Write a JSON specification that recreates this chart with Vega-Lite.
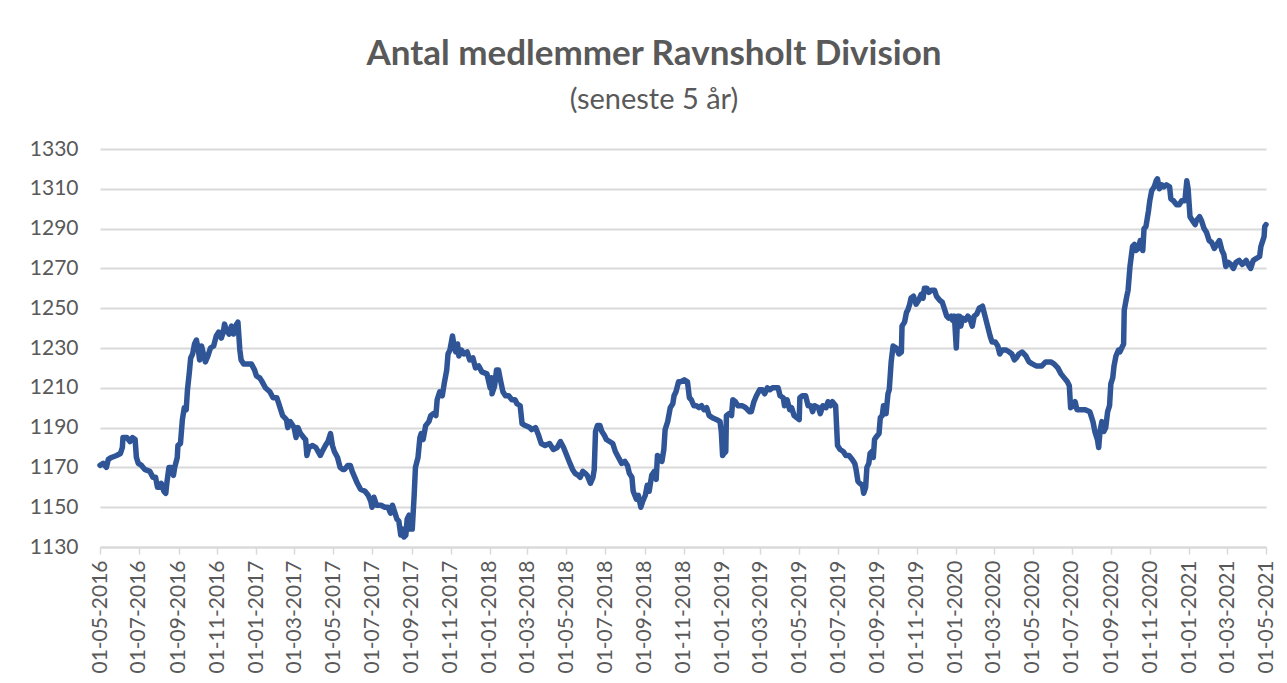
{
  "$schema": "https://vega.github.io/schema/vega-lite/v6.json",
  "width": 1166,
  "height": 398,
  "autosize": {"type": "none"},
  "padding": {"left": 100, "top": 149, "right": 21, "bottom": 136},
  "background": "white",
  "config": {"view": {"stroke": null}, "font": "Lato"},
  "title": {
    "text": "Antal medlemmer Ravnsholt Division",
    "subtitle": "(seneste 5 år)",
    "font": "Lato",
    "fontSize": 35,
    "fontWeight": "bold",
    "color": "#595959",
    "subtitleFont": "Lato",
    "subtitleFontSize": 29,
    "subtitleColor": "#595959",
    "subtitlePadding": 14,
    "anchor": "middle",
    "dx": -29,
    "offset": 23
  },
  "data": {
    "format": {"parse": {"dato": "date:'%Y-%m-%d'"}},
    "values": [
      {"dato": "2016-05-01", "medlemmer": 1171},
      {"dato": "2016-05-06", "medlemmer": 1172},
      {"dato": "2016-05-11", "medlemmer": 1170},
      {"dato": "2016-05-14", "medlemmer": 1174},
      {"dato": "2016-05-19", "medlemmer": 1175},
      {"dato": "2016-05-27", "medlemmer": 1176},
      {"dato": "2016-06-02", "medlemmer": 1177},
      {"dato": "2016-06-05", "medlemmer": 1180},
      {"dato": "2016-06-06", "medlemmer": 1185},
      {"dato": "2016-06-12", "medlemmer": 1185},
      {"dato": "2016-06-17", "medlemmer": 1183},
      {"dato": "2016-06-21", "medlemmer": 1185},
      {"dato": "2016-06-25", "medlemmer": 1184},
      {"dato": "2016-06-27", "medlemmer": 1175},
      {"dato": "2016-06-30", "medlemmer": 1172},
      {"dato": "2016-07-05", "medlemmer": 1171},
      {"dato": "2016-07-10", "medlemmer": 1169},
      {"dato": "2016-07-18", "medlemmer": 1168},
      {"dato": "2016-07-23", "medlemmer": 1165},
      {"dato": "2016-07-27", "medlemmer": 1165},
      {"dato": "2016-07-30", "medlemmer": 1160},
      {"dato": "2016-08-03", "medlemmer": 1160},
      {"dato": "2016-08-05", "medlemmer": 1162},
      {"dato": "2016-08-09", "medlemmer": 1158},
      {"dato": "2016-08-12", "medlemmer": 1157},
      {"dato": "2016-08-14", "medlemmer": 1163},
      {"dato": "2016-08-17", "medlemmer": 1170},
      {"dato": "2016-08-21", "medlemmer": 1170},
      {"dato": "2016-08-24", "medlemmer": 1166},
      {"dato": "2016-08-26", "medlemmer": 1170},
      {"dato": "2016-08-30", "medlemmer": 1175},
      {"dato": "2016-08-31", "medlemmer": 1181},
      {"dato": "2016-09-04", "medlemmer": 1182},
      {"dato": "2016-09-07", "medlemmer": 1194},
      {"dato": "2016-09-10", "medlemmer": 1200},
      {"dato": "2016-09-13", "medlemmer": 1199},
      {"dato": "2016-09-15", "medlemmer": 1209},
      {"dato": "2016-09-18", "medlemmer": 1218},
      {"dato": "2016-09-20", "medlemmer": 1225},
      {"dato": "2016-09-23", "medlemmer": 1227},
      {"dato": "2016-09-26", "medlemmer": 1232},
      {"dato": "2016-09-29", "medlemmer": 1234},
      {"dato": "2016-10-02", "medlemmer": 1229},
      {"dato": "2016-10-04", "medlemmer": 1224},
      {"dato": "2016-10-07", "medlemmer": 1231},
      {"dato": "2016-10-10", "medlemmer": 1227},
      {"dato": "2016-10-13", "medlemmer": 1223},
      {"dato": "2016-10-17", "medlemmer": 1226},
      {"dato": "2016-10-21", "medlemmer": 1230},
      {"dato": "2016-10-26", "medlemmer": 1231},
      {"dato": "2016-10-30", "medlemmer": 1236},
      {"dato": "2016-11-03", "medlemmer": 1238},
      {"dato": "2016-11-07", "medlemmer": 1235},
      {"dato": "2016-11-10", "medlemmer": 1238},
      {"dato": "2016-11-12", "medlemmer": 1242},
      {"dato": "2016-11-15", "medlemmer": 1239},
      {"dato": "2016-11-19", "medlemmer": 1237},
      {"dato": "2016-11-23", "medlemmer": 1241},
      {"dato": "2016-11-26", "medlemmer": 1237},
      {"dato": "2016-12-01", "medlemmer": 1242},
      {"dato": "2016-12-03", "medlemmer": 1243},
      {"dato": "2016-12-06", "medlemmer": 1229},
      {"dato": "2016-12-08", "medlemmer": 1224},
      {"dato": "2016-12-12", "medlemmer": 1222},
      {"dato": "2016-12-19", "medlemmer": 1222},
      {"dato": "2016-12-24", "medlemmer": 1222},
      {"dato": "2016-12-29", "medlemmer": 1219},
      {"dato": "2017-01-01", "medlemmer": 1216},
      {"dato": "2017-01-06", "medlemmer": 1215},
      {"dato": "2017-01-10", "medlemmer": 1213},
      {"dato": "2017-01-15", "medlemmer": 1210},
      {"dato": "2017-01-22", "medlemmer": 1208},
      {"dato": "2017-01-27", "medlemmer": 1205},
      {"dato": "2017-02-02", "medlemmer": 1205},
      {"dato": "2017-02-07", "medlemmer": 1200},
      {"dato": "2017-02-11", "medlemmer": 1196},
      {"dato": "2017-02-17", "medlemmer": 1194},
      {"dato": "2017-02-19", "medlemmer": 1190},
      {"dato": "2017-02-23", "medlemmer": 1193},
      {"dato": "2017-03-01", "medlemmer": 1190},
      {"dato": "2017-03-04", "medlemmer": 1185},
      {"dato": "2017-03-07", "medlemmer": 1190},
      {"dato": "2017-03-11", "medlemmer": 1187},
      {"dato": "2017-03-16", "medlemmer": 1185},
      {"dato": "2017-03-19", "medlemmer": 1184},
      {"dato": "2017-03-21", "medlemmer": 1176},
      {"dato": "2017-03-24", "medlemmer": 1180},
      {"dato": "2017-03-30", "medlemmer": 1181},
      {"dato": "2017-04-04", "medlemmer": 1180},
      {"dato": "2017-04-11", "medlemmer": 1176},
      {"dato": "2017-04-14", "medlemmer": 1178},
      {"dato": "2017-04-19", "medlemmer": 1181},
      {"dato": "2017-04-23", "medlemmer": 1183},
      {"dato": "2017-04-27", "medlemmer": 1187},
      {"dato": "2017-04-30", "medlemmer": 1181},
      {"dato": "2017-05-03", "medlemmer": 1178},
      {"dato": "2017-05-08", "medlemmer": 1175},
      {"dato": "2017-05-12", "medlemmer": 1170},
      {"dato": "2017-05-16", "medlemmer": 1169},
      {"dato": "2017-05-19", "medlemmer": 1169},
      {"dato": "2017-05-24", "medlemmer": 1171},
      {"dato": "2017-05-28", "medlemmer": 1171},
      {"dato": "2017-05-31", "medlemmer": 1168},
      {"dato": "2017-06-04", "medlemmer": 1165},
      {"dato": "2017-06-08", "medlemmer": 1162},
      {"dato": "2017-06-13", "medlemmer": 1159},
      {"dato": "2017-06-20", "medlemmer": 1158},
      {"dato": "2017-06-25", "medlemmer": 1156},
      {"dato": "2017-06-29", "medlemmer": 1153},
      {"dato": "2017-07-01", "medlemmer": 1150},
      {"dato": "2017-07-04", "medlemmer": 1155},
      {"dato": "2017-07-08", "medlemmer": 1151},
      {"dato": "2017-07-15", "medlemmer": 1151},
      {"dato": "2017-07-21", "medlemmer": 1150},
      {"dato": "2017-07-26", "medlemmer": 1150},
      {"dato": "2017-07-30", "medlemmer": 1147},
      {"dato": "2017-08-02", "medlemmer": 1151},
      {"dato": "2017-08-06", "medlemmer": 1147},
      {"dato": "2017-08-09", "medlemmer": 1144},
      {"dato": "2017-08-12", "medlemmer": 1143},
      {"dato": "2017-08-15", "medlemmer": 1136},
      {"dato": "2017-08-18", "medlemmer": 1139},
      {"dato": "2017-08-20", "medlemmer": 1135},
      {"dato": "2017-08-23", "medlemmer": 1136},
      {"dato": "2017-08-25", "medlemmer": 1144},
      {"dato": "2017-08-28", "medlemmer": 1146},
      {"dato": "2017-08-30", "medlemmer": 1139},
      {"dato": "2017-09-02", "medlemmer": 1139},
      {"dato": "2017-09-05", "medlemmer": 1156},
      {"dato": "2017-09-07", "medlemmer": 1170},
      {"dato": "2017-09-11", "medlemmer": 1175},
      {"dato": "2017-09-14", "medlemmer": 1185},
      {"dato": "2017-09-16", "medlemmer": 1187},
      {"dato": "2017-09-19", "medlemmer": 1184},
      {"dato": "2017-09-23", "medlemmer": 1191},
      {"dato": "2017-09-28", "medlemmer": 1193},
      {"dato": "2017-10-01", "medlemmer": 1196},
      {"dato": "2017-10-05", "medlemmer": 1197},
      {"dato": "2017-10-09", "medlemmer": 1196},
      {"dato": "2017-10-11", "medlemmer": 1204},
      {"dato": "2017-10-15", "medlemmer": 1208},
      {"dato": "2017-10-19", "medlemmer": 1206},
      {"dato": "2017-10-22", "medlemmer": 1212},
      {"dato": "2017-10-26", "medlemmer": 1219},
      {"dato": "2017-10-28", "medlemmer": 1227},
      {"dato": "2017-10-31", "medlemmer": 1229},
      {"dato": "2017-11-04", "medlemmer": 1236},
      {"dato": "2017-11-06", "medlemmer": 1232},
      {"dato": "2017-11-09", "medlemmer": 1228},
      {"dato": "2017-11-12", "medlemmer": 1232},
      {"dato": "2017-11-14", "medlemmer": 1226},
      {"dato": "2017-11-18", "medlemmer": 1229},
      {"dato": "2017-11-22", "medlemmer": 1227},
      {"dato": "2017-11-27", "medlemmer": 1228},
      {"dato": "2017-12-01", "medlemmer": 1224},
      {"dato": "2017-12-06", "medlemmer": 1225},
      {"dato": "2017-12-10", "medlemmer": 1220},
      {"dato": "2017-12-15", "medlemmer": 1221},
      {"dato": "2017-12-20", "medlemmer": 1218},
      {"dato": "2017-12-28", "medlemmer": 1217},
      {"dato": "2018-01-02", "medlemmer": 1210},
      {"dato": "2018-01-04", "medlemmer": 1215},
      {"dato": "2018-01-05", "medlemmer": 1207},
      {"dato": "2018-01-09", "medlemmer": 1211},
      {"dato": "2018-01-12", "medlemmer": 1219},
      {"dato": "2018-01-15", "medlemmer": 1219},
      {"dato": "2018-01-18", "medlemmer": 1214},
      {"dato": "2018-01-22", "medlemmer": 1208},
      {"dato": "2018-01-26", "medlemmer": 1206},
      {"dato": "2018-01-31", "medlemmer": 1206},
      {"dato": "2018-02-05", "medlemmer": 1204},
      {"dato": "2018-02-10", "medlemmer": 1204},
      {"dato": "2018-02-13", "medlemmer": 1202},
      {"dato": "2018-02-18", "medlemmer": 1201},
      {"dato": "2018-02-21", "medlemmer": 1192},
      {"dato": "2018-02-26", "medlemmer": 1191},
      {"dato": "2018-03-05", "medlemmer": 1190},
      {"dato": "2018-03-08", "medlemmer": 1189},
      {"dato": "2018-03-14", "medlemmer": 1190},
      {"dato": "2018-03-19", "medlemmer": 1186},
      {"dato": "2018-03-23", "medlemmer": 1182},
      {"dato": "2018-03-29", "medlemmer": 1181},
      {"dato": "2018-04-05", "medlemmer": 1182},
      {"dato": "2018-04-11", "medlemmer": 1179},
      {"dato": "2018-04-17", "medlemmer": 1180},
      {"dato": "2018-04-22", "medlemmer": 1183},
      {"dato": "2018-04-27", "medlemmer": 1180},
      {"dato": "2018-05-02", "medlemmer": 1176},
      {"dato": "2018-05-07", "medlemmer": 1172},
      {"dato": "2018-05-11", "medlemmer": 1169},
      {"dato": "2018-05-15", "medlemmer": 1167},
      {"dato": "2018-05-20", "medlemmer": 1166},
      {"dato": "2018-05-23", "medlemmer": 1165},
      {"dato": "2018-05-27", "medlemmer": 1168},
      {"dato": "2018-05-31", "medlemmer": 1167},
      {"dato": "2018-06-03", "medlemmer": 1166},
      {"dato": "2018-06-08", "medlemmer": 1162},
      {"dato": "2018-06-12", "medlemmer": 1165},
      {"dato": "2018-06-14", "medlemmer": 1169},
      {"dato": "2018-06-16", "medlemmer": 1188},
      {"dato": "2018-06-19", "medlemmer": 1191},
      {"dato": "2018-06-23", "medlemmer": 1191},
      {"dato": "2018-06-26", "medlemmer": 1188},
      {"dato": "2018-06-30", "medlemmer": 1186},
      {"dato": "2018-07-03", "medlemmer": 1184},
      {"dato": "2018-07-08", "medlemmer": 1183},
      {"dato": "2018-07-13", "medlemmer": 1182},
      {"dato": "2018-07-17", "medlemmer": 1178},
      {"dato": "2018-07-22", "medlemmer": 1175},
      {"dato": "2018-07-27", "medlemmer": 1172},
      {"dato": "2018-08-01", "medlemmer": 1173},
      {"dato": "2018-08-05", "medlemmer": 1171},
      {"dato": "2018-08-08", "medlemmer": 1167},
      {"dato": "2018-08-12", "medlemmer": 1165},
      {"dato": "2018-08-14", "medlemmer": 1158},
      {"dato": "2018-08-19", "medlemmer": 1154},
      {"dato": "2018-08-22", "medlemmer": 1156},
      {"dato": "2018-08-26", "medlemmer": 1150},
      {"dato": "2018-08-29", "medlemmer": 1153},
      {"dato": "2018-09-02", "medlemmer": 1156},
      {"dato": "2018-09-05", "medlemmer": 1161},
      {"dato": "2018-09-08", "medlemmer": 1158},
      {"dato": "2018-09-12", "medlemmer": 1166},
      {"dato": "2018-09-16", "medlemmer": 1168},
      {"dato": "2018-09-19", "medlemmer": 1164},
      {"dato": "2018-09-21", "medlemmer": 1176},
      {"dato": "2018-09-24", "medlemmer": 1175},
      {"dato": "2018-09-28", "medlemmer": 1173},
      {"dato": "2018-10-01", "medlemmer": 1179},
      {"dato": "2018-10-03", "medlemmer": 1189},
      {"dato": "2018-10-07", "medlemmer": 1193},
      {"dato": "2018-10-11", "medlemmer": 1200},
      {"dato": "2018-10-15", "medlemmer": 1202},
      {"dato": "2018-10-17", "medlemmer": 1206},
      {"dato": "2018-10-20", "medlemmer": 1208},
      {"dato": "2018-10-24", "medlemmer": 1213},
      {"dato": "2018-10-27", "medlemmer": 1213},
      {"dato": "2018-11-02", "medlemmer": 1214},
      {"dato": "2018-11-07", "medlemmer": 1213},
      {"dato": "2018-11-10", "medlemmer": 1205},
      {"dato": "2018-11-13", "medlemmer": 1204},
      {"dato": "2018-11-17", "medlemmer": 1201},
      {"dato": "2018-11-21", "medlemmer": 1201},
      {"dato": "2018-11-25", "medlemmer": 1200},
      {"dato": "2018-11-29", "medlemmer": 1201},
      {"dato": "2018-12-03", "medlemmer": 1199},
      {"dato": "2018-12-07", "medlemmer": 1200},
      {"dato": "2018-12-11", "medlemmer": 1196},
      {"dato": "2018-12-16", "medlemmer": 1195},
      {"dato": "2018-12-23", "medlemmer": 1194},
      {"dato": "2018-12-28", "medlemmer": 1193},
      {"dato": "2018-12-30", "medlemmer": 1188},
      {"dato": "2019-01-01", "medlemmer": 1176},
      {"dato": "2019-01-03", "medlemmer": 1177},
      {"dato": "2019-01-06", "medlemmer": 1178},
      {"dato": "2019-01-07", "medlemmer": 1196},
      {"dato": "2019-01-11", "medlemmer": 1197},
      {"dato": "2019-01-15", "medlemmer": 1196},
      {"dato": "2019-01-17", "medlemmer": 1204},
      {"dato": "2019-01-21", "medlemmer": 1203},
      {"dato": "2019-01-25", "medlemmer": 1201},
      {"dato": "2019-02-01", "medlemmer": 1201},
      {"dato": "2019-02-06", "medlemmer": 1200},
      {"dato": "2019-02-12", "medlemmer": 1198},
      {"dato": "2019-02-15", "medlemmer": 1198},
      {"dato": "2019-02-19", "medlemmer": 1203},
      {"dato": "2019-02-23", "medlemmer": 1206},
      {"dato": "2019-02-28", "medlemmer": 1209},
      {"dato": "2019-03-04", "medlemmer": 1209},
      {"dato": "2019-03-08", "medlemmer": 1207},
      {"dato": "2019-03-12", "medlemmer": 1210},
      {"dato": "2019-03-16", "medlemmer": 1209},
      {"dato": "2019-03-20", "medlemmer": 1210},
      {"dato": "2019-03-25", "medlemmer": 1210},
      {"dato": "2019-03-29", "medlemmer": 1210},
      {"dato": "2019-04-01", "medlemmer": 1206},
      {"dato": "2019-04-06", "medlemmer": 1205},
      {"dato": "2019-04-08", "medlemmer": 1201},
      {"dato": "2019-04-12", "medlemmer": 1204},
      {"dato": "2019-04-16", "medlemmer": 1199},
      {"dato": "2019-04-19", "medlemmer": 1200},
      {"dato": "2019-04-23", "medlemmer": 1196},
      {"dato": "2019-04-27", "medlemmer": 1195},
      {"dato": "2019-05-01", "medlemmer": 1194},
      {"dato": "2019-05-02", "medlemmer": 1205},
      {"dato": "2019-05-06", "medlemmer": 1206},
      {"dato": "2019-05-11", "medlemmer": 1206},
      {"dato": "2019-05-15", "medlemmer": 1201},
      {"dato": "2019-05-19", "medlemmer": 1201},
      {"dato": "2019-05-22", "medlemmer": 1198},
      {"dato": "2019-05-25", "medlemmer": 1201},
      {"dato": "2019-05-31", "medlemmer": 1200},
      {"dato": "2019-06-03", "medlemmer": 1197},
      {"dato": "2019-06-07", "medlemmer": 1201},
      {"dato": "2019-06-12", "medlemmer": 1200},
      {"dato": "2019-06-15", "medlemmer": 1203},
      {"dato": "2019-06-19", "medlemmer": 1201},
      {"dato": "2019-06-22", "medlemmer": 1203},
      {"dato": "2019-06-27", "medlemmer": 1201},
      {"dato": "2019-06-30", "medlemmer": 1181},
      {"dato": "2019-07-04", "medlemmer": 1179},
      {"dato": "2019-07-09", "medlemmer": 1178},
      {"dato": "2019-07-13", "medlemmer": 1176},
      {"dato": "2019-07-18", "medlemmer": 1176},
      {"dato": "2019-07-23", "medlemmer": 1174},
      {"dato": "2019-07-27", "medlemmer": 1172},
      {"dato": "2019-07-29", "medlemmer": 1169},
      {"dato": "2019-08-01", "medlemmer": 1163},
      {"dato": "2019-08-04", "medlemmer": 1162},
      {"dato": "2019-08-08", "medlemmer": 1161},
      {"dato": "2019-08-10", "medlemmer": 1157},
      {"dato": "2019-08-13", "medlemmer": 1160},
      {"dato": "2019-08-15", "medlemmer": 1170},
      {"dato": "2019-08-18", "medlemmer": 1172},
      {"dato": "2019-08-20", "medlemmer": 1177},
      {"dato": "2019-08-23", "medlemmer": 1178},
      {"dato": "2019-08-25", "medlemmer": 1175},
      {"dato": "2019-08-27", "medlemmer": 1184},
      {"dato": "2019-08-29", "medlemmer": 1185},
      {"dato": "2019-09-03", "medlemmer": 1187},
      {"dato": "2019-09-05", "medlemmer": 1195},
      {"dato": "2019-09-08", "medlemmer": 1196},
      {"dato": "2019-09-10", "medlemmer": 1201},
      {"dato": "2019-09-14", "medlemmer": 1197},
      {"dato": "2019-09-17", "medlemmer": 1207},
      {"dato": "2019-09-19", "medlemmer": 1209},
      {"dato": "2019-09-22", "medlemmer": 1223},
      {"dato": "2019-09-25", "medlemmer": 1231},
      {"dato": "2019-09-30", "medlemmer": 1230},
      {"dato": "2019-10-04", "medlemmer": 1227},
      {"dato": "2019-10-08", "medlemmer": 1228},
      {"dato": "2019-10-09", "medlemmer": 1241},
      {"dato": "2019-10-13", "medlemmer": 1243},
      {"dato": "2019-10-16", "medlemmer": 1248},
      {"dato": "2019-10-18", "medlemmer": 1249},
      {"dato": "2019-10-21", "medlemmer": 1252},
      {"dato": "2019-10-23", "medlemmer": 1255},
      {"dato": "2019-10-27", "medlemmer": 1256},
      {"dato": "2019-10-31", "medlemmer": 1252},
      {"dato": "2019-11-04", "medlemmer": 1254},
      {"dato": "2019-11-08", "medlemmer": 1257},
      {"dato": "2019-11-11", "medlemmer": 1255},
      {"dato": "2019-11-13", "medlemmer": 1260},
      {"dato": "2019-11-17", "medlemmer": 1260},
      {"dato": "2019-11-20", "medlemmer": 1258},
      {"dato": "2019-11-24", "medlemmer": 1259},
      {"dato": "2019-11-29", "medlemmer": 1259},
      {"dato": "2019-12-02", "medlemmer": 1256},
      {"dato": "2019-12-07", "medlemmer": 1254},
      {"dato": "2019-12-11", "medlemmer": 1253},
      {"dato": "2019-12-14", "medlemmer": 1250},
      {"dato": "2019-12-18", "medlemmer": 1246},
      {"dato": "2019-12-21", "medlemmer": 1245},
      {"dato": "2019-12-25", "medlemmer": 1246},
      {"dato": "2019-12-27", "medlemmer": 1244},
      {"dato": "2019-12-30", "medlemmer": 1246},
      {"dato": "2020-01-02", "medlemmer": 1230},
      {"dato": "2020-01-04", "medlemmer": 1246},
      {"dato": "2020-01-07", "medlemmer": 1246},
      {"dato": "2020-01-09", "medlemmer": 1241},
      {"dato": "2020-01-12", "medlemmer": 1245},
      {"dato": "2020-01-16", "medlemmer": 1244},
      {"dato": "2020-01-20", "medlemmer": 1246},
      {"dato": "2020-01-23", "medlemmer": 1245},
      {"dato": "2020-01-27", "medlemmer": 1241},
      {"dato": "2020-01-30", "medlemmer": 1246},
      {"dato": "2020-02-03", "medlemmer": 1247},
      {"dato": "2020-02-07", "medlemmer": 1250},
      {"dato": "2020-02-12", "medlemmer": 1251},
      {"dato": "2020-02-16", "medlemmer": 1246},
      {"dato": "2020-02-20", "medlemmer": 1241},
      {"dato": "2020-02-24", "medlemmer": 1236},
      {"dato": "2020-02-27", "medlemmer": 1233},
      {"dato": "2020-03-03", "medlemmer": 1233},
      {"dato": "2020-03-07", "medlemmer": 1231},
      {"dato": "2020-03-10", "medlemmer": 1227},
      {"dato": "2020-03-14", "medlemmer": 1229},
      {"dato": "2020-03-20", "medlemmer": 1229},
      {"dato": "2020-03-25", "medlemmer": 1228},
      {"dato": "2020-03-29", "medlemmer": 1227},
      {"dato": "2020-04-02", "medlemmer": 1224},
      {"dato": "2020-04-05", "medlemmer": 1225},
      {"dato": "2020-04-09", "medlemmer": 1227},
      {"dato": "2020-04-14", "medlemmer": 1228},
      {"dato": "2020-04-20", "medlemmer": 1226},
      {"dato": "2020-04-25", "medlemmer": 1223},
      {"dato": "2020-04-30", "medlemmer": 1222},
      {"dato": "2020-05-06", "medlemmer": 1221},
      {"dato": "2020-05-10", "medlemmer": 1221},
      {"dato": "2020-05-15", "medlemmer": 1221},
      {"dato": "2020-05-21", "medlemmer": 1223},
      {"dato": "2020-05-29", "medlemmer": 1223},
      {"dato": "2020-06-03", "medlemmer": 1222},
      {"dato": "2020-06-09", "medlemmer": 1220},
      {"dato": "2020-06-14", "medlemmer": 1217},
      {"dato": "2020-06-19", "medlemmer": 1215},
      {"dato": "2020-06-24", "medlemmer": 1213},
      {"dato": "2020-06-27", "medlemmer": 1211},
      {"dato": "2020-06-29", "medlemmer": 1200},
      {"dato": "2020-07-03", "medlemmer": 1201},
      {"dato": "2020-07-06", "medlemmer": 1203},
      {"dato": "2020-07-09", "medlemmer": 1199},
      {"dato": "2020-07-15", "medlemmer": 1199},
      {"dato": "2020-07-22", "medlemmer": 1199},
      {"dato": "2020-07-29", "medlemmer": 1198},
      {"dato": "2020-08-03", "medlemmer": 1193},
      {"dato": "2020-08-06", "medlemmer": 1188},
      {"dato": "2020-08-10", "medlemmer": 1184},
      {"dato": "2020-08-12", "medlemmer": 1180},
      {"dato": "2020-08-14", "medlemmer": 1188},
      {"dato": "2020-08-17", "medlemmer": 1193},
      {"dato": "2020-08-20", "medlemmer": 1188},
      {"dato": "2020-08-23", "medlemmer": 1190},
      {"dato": "2020-08-26", "medlemmer": 1198},
      {"dato": "2020-08-29", "medlemmer": 1201},
      {"dato": "2020-08-31", "medlemmer": 1212},
      {"dato": "2020-09-03", "medlemmer": 1215},
      {"dato": "2020-09-05", "medlemmer": 1221},
      {"dato": "2020-09-08", "medlemmer": 1226},
      {"dato": "2020-09-12", "medlemmer": 1229},
      {"dato": "2020-09-14", "medlemmer": 1228},
      {"dato": "2020-09-20", "medlemmer": 1232},
      {"dato": "2020-09-21", "medlemmer": 1249},
      {"dato": "2020-09-25", "medlemmer": 1256},
      {"dato": "2020-09-27", "medlemmer": 1259},
      {"dato": "2020-09-30", "medlemmer": 1271},
      {"dato": "2020-10-04", "medlemmer": 1281},
      {"dato": "2020-10-07", "medlemmer": 1282},
      {"dato": "2020-10-09", "medlemmer": 1279},
      {"dato": "2020-10-13", "medlemmer": 1280},
      {"dato": "2020-10-16", "medlemmer": 1284},
      {"dato": "2020-10-20", "medlemmer": 1279},
      {"dato": "2020-10-22", "medlemmer": 1290},
      {"dato": "2020-10-25", "medlemmer": 1291},
      {"dato": "2020-10-29", "medlemmer": 1299},
      {"dato": "2020-10-31", "medlemmer": 1304},
      {"dato": "2020-11-03", "medlemmer": 1309},
      {"dato": "2020-11-07", "medlemmer": 1311},
      {"dato": "2020-11-10", "medlemmer": 1314},
      {"dato": "2020-11-12", "medlemmer": 1315},
      {"dato": "2020-11-15", "medlemmer": 1310},
      {"dato": "2020-11-19", "medlemmer": 1312},
      {"dato": "2020-11-22", "medlemmer": 1311},
      {"dato": "2020-11-26", "medlemmer": 1312},
      {"dato": "2020-12-01", "medlemmer": 1311},
      {"dato": "2020-12-03", "medlemmer": 1305},
      {"dato": "2020-12-07", "medlemmer": 1304},
      {"dato": "2020-12-12", "medlemmer": 1302},
      {"dato": "2020-12-16", "medlemmer": 1302},
      {"dato": "2020-12-20", "medlemmer": 1304},
      {"dato": "2020-12-25", "medlemmer": 1304},
      {"dato": "2020-12-28", "medlemmer": 1314},
      {"dato": "2020-12-30", "medlemmer": 1310},
      {"dato": "2021-01-02", "medlemmer": 1296},
      {"dato": "2021-01-06", "medlemmer": 1294},
      {"dato": "2021-01-10", "medlemmer": 1292},
      {"dato": "2021-01-12", "medlemmer": 1294},
      {"dato": "2021-01-17", "medlemmer": 1296},
      {"dato": "2021-01-20", "medlemmer": 1294},
      {"dato": "2021-01-24", "medlemmer": 1290},
      {"dato": "2021-01-28", "medlemmer": 1288},
      {"dato": "2021-02-01", "medlemmer": 1284},
      {"dato": "2021-02-05", "medlemmer": 1283},
      {"dato": "2021-02-09", "medlemmer": 1280},
      {"dato": "2021-02-13", "medlemmer": 1282},
      {"dato": "2021-02-17", "medlemmer": 1284},
      {"dato": "2021-02-21", "medlemmer": 1279},
      {"dato": "2021-02-24", "medlemmer": 1277},
      {"dato": "2021-02-27", "medlemmer": 1271},
      {"dato": "2021-03-03", "medlemmer": 1273},
      {"dato": "2021-03-07", "medlemmer": 1272},
      {"dato": "2021-03-11", "medlemmer": 1270},
      {"dato": "2021-03-15", "medlemmer": 1273},
      {"dato": "2021-03-20", "medlemmer": 1274},
      {"dato": "2021-03-25", "medlemmer": 1272},
      {"dato": "2021-03-31", "medlemmer": 1274},
      {"dato": "2021-04-03", "medlemmer": 1272},
      {"dato": "2021-04-07", "medlemmer": 1270},
      {"dato": "2021-04-11", "medlemmer": 1274},
      {"dato": "2021-04-16", "medlemmer": 1275},
      {"dato": "2021-04-21", "medlemmer": 1276},
      {"dato": "2021-04-23", "medlemmer": 1281},
      {"dato": "2021-04-26", "medlemmer": 1284},
      {"dato": "2021-04-28", "medlemmer": 1286},
      {"dato": "2021-04-29", "medlemmer": 1291},
      {"dato": "2021-05-01", "medlemmer": 1292}
    ]
  },
  "mark": {"type": "line", "color": "#2F5597", "strokeWidth": 5.5, "strokeJoin": "round", "strokeCap": "round", "clip": false},
  "encoding": {
    "x": {
      "field": "dato",
      "type": "temporal",
      "scale": {"domain": [{"year": 2016, "month": 5, "date": 1}, {"year": 2021, "month": 5, "date": 1}]},
      "axis": {
        "title": null,
        "values": [
          {"year": 2016, "month": 5, "date": 1}, {"year": 2016, "month": 7, "date": 1}, {"year": 2016, "month": 9, "date": 1}, {"year": 2016, "month": 11, "date": 1},
          {"year": 2017, "month": 1, "date": 1}, {"year": 2017, "month": 3, "date": 1}, {"year": 2017, "month": 5, "date": 1}, {"year": 2017, "month": 7, "date": 1}, {"year": 2017, "month": 9, "date": 1}, {"year": 2017, "month": 11, "date": 1},
          {"year": 2018, "month": 1, "date": 1}, {"year": 2018, "month": 3, "date": 1}, {"year": 2018, "month": 5, "date": 1}, {"year": 2018, "month": 7, "date": 1}, {"year": 2018, "month": 9, "date": 1}, {"year": 2018, "month": 11, "date": 1},
          {"year": 2019, "month": 1, "date": 1}, {"year": 2019, "month": 3, "date": 1}, {"year": 2019, "month": 5, "date": 1}, {"year": 2019, "month": 7, "date": 1}, {"year": 2019, "month": 9, "date": 1}, {"year": 2019, "month": 11, "date": 1},
          {"year": 2020, "month": 1, "date": 1}, {"year": 2020, "month": 3, "date": 1}, {"year": 2020, "month": 5, "date": 1}, {"year": 2020, "month": 7, "date": 1}, {"year": 2020, "month": 9, "date": 1}, {"year": 2020, "month": 11, "date": 1},
          {"year": 2021, "month": 1, "date": 1}, {"year": 2021, "month": 3, "date": 1}, {"year": 2021, "month": 5, "date": 1}
        ],
        "format": "%d-%m-%Y",
        "labelAngle": 270,
        "labelAlign": "right",
        "labelBaseline": "middle",
        "labelFont": "Lato",
        "labelFontSize": 21,
        "labelColor": "#595959",
        "labelPadding": 6,
        "labelOverlap": false,
        "labelFlush": false,
        "labelBound": false,
        "grid": false,
        "domainColor": "#D9D9D9",
        "domainWidth": 2,
        "tickColor": "#D9D9D9",
        "tickWidth": 1.5,
        "tickSize": 7
      }
    },
    "y": {
      "field": "medlemmer",
      "type": "quantitative",
      "scale": {"domain": [1130, 1330], "nice": false, "zero": false},
      "axis": {
        "title": null,
        "values": [1130, 1150, 1170, 1190, 1210, 1230, 1250, 1270, 1290, 1310, 1330],
        "format": "d",
        "labelFont": "Lato",
        "labelFontSize": 21,
        "labelColor": "#595959",
        "labelPadding": 22,
        "ticks": false,
        "domain": false,
        "grid": true,
        "gridColor": "#D9D9D9",
        "gridWidth": 2
      }
    }
  }
}
